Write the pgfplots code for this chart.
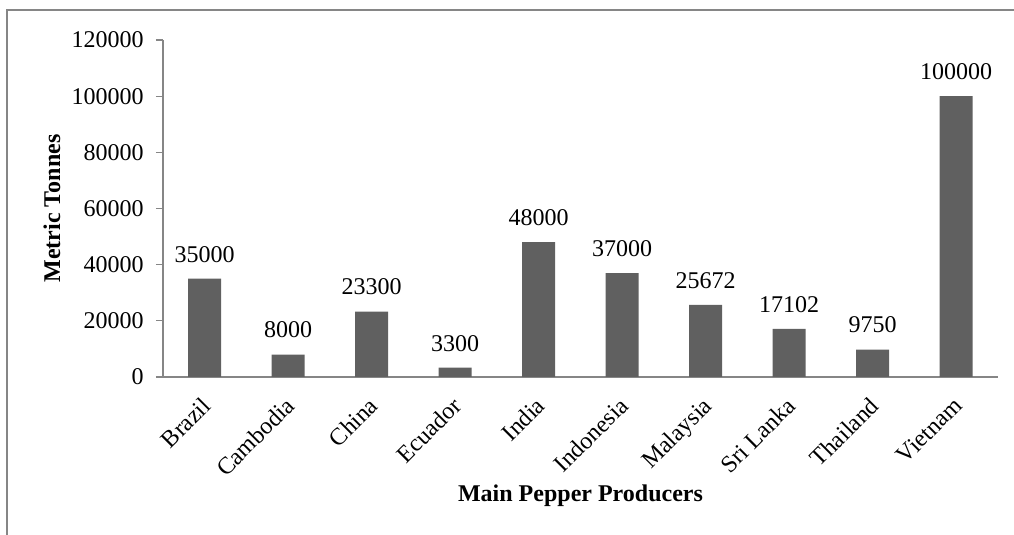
\documentclass[border=0pt]{standalone}
\usepackage{fontspec}
\setmainfont{Liberation Serif}
\usepackage{pgfplots}
\pgfplotsset{compat=1.18}
\definecolor{barfill}{RGB}{96,96,96}
\definecolor{axisgray}{RGB}{134,134,134}
\begin{document}
\fontsize{12}{14}\selectfont
\begin{tikzpicture}
\useasboundingbox (0,0) rectangle (507pt,267.5pt);
% chart frame (partly cropped in the reference)
\draw[axisgray, line width=0.6pt] (3.5pt,0pt) -- (3.5pt,262.5pt) -- (507pt,262.5pt);
\begin{axis}[
    at={(81.5pt,79pt)}, anchor=south west,
    scale only axis,
    width=417.5pt, height=168.5pt,
    xmin=-0.5, xmax=9.5,
    ymin=0, ymax=120000,
    ytick={0,20000,40000,60000,80000,100000,120000},
    yticklabels={0,20000,40000,60000,80000,100000,120000},
    xtick=data,
    xticklabels={Brazil,Cambodia,China,Ecuador,India,Indonesia,Malaysia,Sri Lanka,Thailand,Vietnam},
    x tick label style={rotate=45, anchor=north east, xshift=-1.5pt, yshift=1.5pt},
    y tick label style={xshift=-2pt},
    major x tick style={draw=none},
    y tick style={axisgray, line width=0.6pt},
    tick align=outside,
    major tick length=3.5pt,
    axis x line*=bottom, axis y line*=left,
    axis line style={axisgray, line width=0.6pt, -},
    scaled y ticks=false,
    ylabel={\textbf{Metric Tonnes}},
    xlabel={\textbf{Main Pepper Producers}},
    xlabel style={at={(axis description cs:0.5,-0.353)}, anchor=center},
    ylabel style={at={(axis description cs:-0.133,0.5)}, anchor=center},
    ybar, bar width=16.5pt,
    point meta=explicit symbolic,
    nodes near coords,
    nodes near coords style={yshift=4pt},
    clip=false,
]
\addplot[fill=barfill, draw=none] coordinates {
    (0,35000)[35000] (1,8000)[8000] (2,23300)[23300] (3,3300)[3300] (4,48000)[48000]
    (5,37000)[37000] (6,25672)[25672] (7,17102)[17102] (8,9750)[9750] (9,100000)[100000]
};
\end{axis}
\end{tikzpicture}
\end{document}
